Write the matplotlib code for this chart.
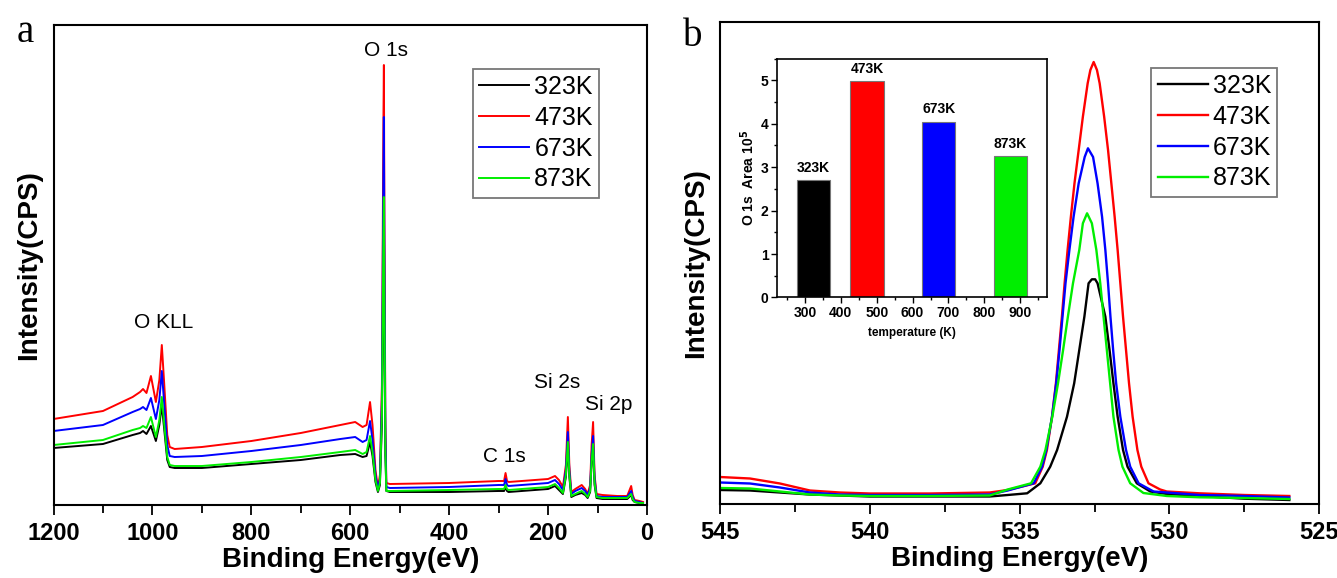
import matplotlib
matplotlib.use("Agg")
import matplotlib.pyplot as plt
from matplotlib.ticker import MultipleLocator

plt.rcParams['font.family'] = ['Liberation Sans', 'DejaVu Sans']

# ---- panel a: survey spectra (arbitrary intensity units) ----
survey_energy = [1200, 1100, 1040, 1025, 1019, 1012, 1003, 993, 986, 981, 976, 970, 965, 955,
                 900, 800, 700, 620, 590, 575, 567, 560, 555, 549, 544, 540, 536, 533, 532, 531,
                 529, 527, 520, 400, 300, 289, 286, 283, 280, 200, 186, 178, 170, 164, 160, 157,
                 153, 145, 132, 125, 120, 115, 112, 109, 106, 102, 90, 60, 40, 32, 29, 25, 15, 8]
survey_323 = [57, 61, 70, 72, 74, 71, 79, 64, 80, 100, 75, 45, 38, 37, 37, 41, 45, 50, 51, 48,
              49, 63, 49, 23, 13, 20, 80, 250, 290, 195, 50, 14, 13, 13, 14, 14, 18, 14, 13, 16,
              19, 15, 11, 28, 60, 28, 8, 10, 12, 10, 7, 13, 42, 58, 20, 7, 6, 6, 6, 10, 5, 3, 2, 2]
survey_473 = [86, 94, 108, 113, 116, 112, 129, 103, 125, 160, 120, 70, 58, 56, 58, 64, 72, 80, 83, 78,
              80, 103, 80, 35, 17, 30, 120, 380, 440, 300, 80, 22, 21, 22, 24, 24, 32, 24, 23, 26,
              29, 25, 18, 40, 88, 40, 13, 16, 20, 16, 11, 20, 60, 83, 30, 11, 10, 9, 9, 19, 10, 5, 4, 3]
survey_673 = [74, 80, 93, 96, 98, 95, 107, 86, 105, 134, 100, 60, 49, 48, 49, 54, 60, 66, 68, 63,
              65, 84, 65, 30, 16, 26, 105, 330, 388, 260, 70, 18, 17, 18, 20, 20, 26, 20, 19, 22,
              25, 21, 15, 35, 73, 34, 11, 14, 17, 14, 10, 17, 50, 69, 26, 9, 8, 8, 8, 14, 8, 4, 3, 2]
survey_873 = [60, 65, 75, 77, 79, 77, 88, 68, 85, 108, 80, 48, 40, 39, 39, 43, 48, 53, 55, 51,
              53, 69, 53, 25, 14, 22, 90, 270, 308, 210, 55, 14, 14, 15, 16, 16, 20, 16, 15, 18,
              21, 17, 12, 30, 63, 30, 9, 11, 14, 11, 8, 14, 44, 61, 22, 8, 7, 7, 7, 11, 6, 3, 2, 2]

# ---- panel b: O 1s high resolution ----
o1s_e_323 = [545, 544, 543, 542, 541, 540, 538, 536, 535.4, 534.75, 534.31, 533.98, 533.75, 533.42,
             533.18, 533.01, 532.84, 532.7, 532.59, 532.48, 532.4, 532.14, 532.0, 531.87, 531.73,
             531.55, 531.4, 531.09, 530.64, 530.09, 529, 527.5, 526]
o1s_i_323 = [14, 13.5, 11.5, 9.5, 8.5, 7.5, 7.5, 7.5, 9, 10.7, 20.7, 37.3, 54, 87.3,
             120.7, 154, 187.3, 220.7, 224.7, 224.7, 220.7, 187.3, 154, 120.7, 87.3,
             54, 37.3, 20.7, 12.5, 10, 8, 5.3, 4]
o1s_e_473 = [545, 544, 543, 542, 541, 540, 538, 536, 535.4, 534.48, 534.23, 534.09, 533.92, 533.79,
             533.69, 533.59, 533.5, 533.4, 533.29, 533.17, 533.03, 532.89, 532.73, 532.64, 532.53,
             532.42, 532.33, 532.18, 532.05, 531.94, 531.83, 531.73, 531.64, 531.55, 531.45, 531.35,
             531.23, 531.07, 530.94, 530.7, 530.31, 530.09, 529, 527.5, 526]
o1s_i_473 = [27, 25.5, 20.5, 13.5, 11.5, 10.5, 10.5, 11.5, 14, 20.7, 37.3, 54, 87.3, 120.7,
             154, 187.3, 220.7, 254, 287.3, 320.7, 354, 387.3, 420.7, 434, 442,
             434, 420.7, 387.3, 354, 320.7, 287.3, 254, 220.7, 187.3, 154, 120.7,
             87.3, 54, 37.3, 20.7, 14.5, 12.5, 10.7, 9, 8]
o1s_e_673 = [545, 544, 543, 542, 541, 540, 538, 536, 535.4, 534.53, 534.25, 534.11, 533.92, 533.78,
             533.67, 533.57, 533.47, 533.34, 533.2, 533.03, 532.83, 532.72, 532.55, 532.4, 532.25,
             532.14, 532.05, 531.97, 531.88, 531.78, 531.64, 531.45, 531.31, 531.03, 530.53, 530.09,
             529, 527.5, 526]
o1s_i_673 = [21.5, 20.5, 16.5, 11.5, 9.5, 9, 9, 9.5, 13.5, 20.7, 37.3, 54, 87.3, 120.7,
             154, 187.3, 220.7, 254, 287.3, 320.7, 347, 355.7, 347, 320.7, 287.3,
             254, 220.7, 187.3, 154, 120.7, 87.3, 54, 37.3, 20.7, 12.5, 11.5,
             9, 8, 6.5]
o1s_e_873 = [545, 544, 543, 542, 541, 540, 538, 536, 535.4, 534.62, 534.31, 534.14, 533.91, 533.72,
             533.55, 533.39, 533.22, 533.01, 532.89, 532.75, 532.59, 532.44, 532.31, 532.2, 532.09,
             531.98, 531.87, 531.7, 531.57, 531.31, 530.87, 530.09, 529, 527.5, 526]
o1s_i_873 = [16, 15.5, 12.5, 9.5, 8.5, 8, 8, 8.5, 14.5, 20.7, 37.3, 54, 87.3, 120.7,
             154, 187.3, 220.7, 254, 280.7, 290.7, 280.7, 254, 220.7, 187.3, 154,
             120.7, 87.3, 54, 37.3, 20.7, 11, 8, 6.7, 6, 5]

# ---- inset: O 1s area ----
temps = [323, 473, 673, 873]
areas = [2.71, 4.98, 4.05, 3.26]
temp_labels = ['323K', '473K', '673K', '873K']
colors = ['#000000', '#ff0000', '#0000ff', '#00ee00']

W, H = 1337, 578
fig = plt.figure(figsize=(W / 100, H / 100), dpi=100)


def px_axes(l, t, r, b):
    return fig.add_axes([l / W, 1 - b / H, (r - l) / W, (b - t) / H])


def style_main(ax):
    for s in ax.spines.values():
        s.set_linewidth(1.5)
    ax.tick_params(axis='x', which='both', direction='out', top=False, width=1.3,
                   labelsize=17, pad=5)
    ax.tick_params(axis='x', which='major', length=7)
    ax.tick_params(axis='x', which='minor', length=6)
    ax.tick_params(axis='y', which='both', left=False, labelleft=False)
    for lab in ax.get_xticklabels():
        lab.set_fontweight('bold')


def add_legend(ax, right_px, top_px):
    leg = ax.legend(loc='upper right', bbox_to_anchor=(right_px / W, 1 - top_px / H),
                    bbox_transform=fig.transFigure, fontsize=18, frameon=True, fancybox=False,
                    borderpad=0.25, labelspacing=0.27, handlelength=2.0, handletextpad=0.2,
                    borderaxespad=0)
    leg.get_frame().set_edgecolor('#555555')
    leg.get_frame().set_linewidth(1.3)


# panel a
ax = px_axes(53.5, 25, 647, 505)
survey = [survey_323, survey_473, survey_673, survey_873]
for vals, c, lab in zip(survey, colors, temp_labels):
    ax.plot(survey_energy, vals, color=c, lw=1.4, label=lab)
ax.set_xlim(1200, 0)
ax.set_ylim(0, 480)
ax.xaxis.set_major_locator(MultipleLocator(200))
ax.xaxis.set_minor_locator(MultipleLocator(100))
style_main(ax)
ax.set_xlabel('Binding Energy(eV)', fontsize=20, fontweight='bold', labelpad=2)
ax.set_ylabel('Intensity(CPS)', fontsize=20, fontweight='bold', labelpad=8)
for txt, e, i in [('O 1s', 528, 454), ('O KLL', 978, 182), ('C 1s', 288, 49),
                  ('Si 2s', 181, 123), ('Si 2p', 78, 100)]:
    ax.text(e, i, txt, fontsize=15, ha='center', va='center')
add_legend(ax, 599, 69)
fig.text(25 / W, 1 - 32 / H, 'a', fontsize=28, family='Liberation Serif', ha='center', va='center')

# panel b
bx = px_axes(720, 22, 1319.3, 504)
o1s = [(o1s_e_323, o1s_i_323), (o1s_e_473, o1s_i_473),
       (o1s_e_673, o1s_i_673), (o1s_e_873, o1s_i_873)]
for (e, i), c, lab in zip(o1s, colors, temp_labels):
    bx.plot(e, i, color=c, lw=1.7, label=lab, solid_joinstyle='round')
bx.set_xlim(545, 525)
bx.set_ylim(0, 482)
bx.xaxis.set_major_locator(MultipleLocator(5))
bx.xaxis.set_minor_locator(MultipleLocator(2.5))
style_main(bx)
bx.set_xlabel('Binding Energy(eV)', fontsize=20, fontweight='bold', labelpad=2)
bx.set_ylabel('Intensity(CPS)', fontsize=20, fontweight='bold', labelpad=8)
add_legend(bx, 1277.3, 67.8)
fig.text(693 / W, 1 - 36 / H, 'b', fontsize=28, family='Liberation Serif', ha='center', va='center')

# inset
ix = px_axes(776.9, 58.5, 1046.5, 297.5)
ix.bar(temps, areas, width=92, color=colors, edgecolor='#777777', linewidth=0.8)
for t, a, lab in zip(temps, areas, temp_labels):
    ix.text(t, a + 0.12, lab, ha='center', va='bottom', fontsize=10, fontweight='bold')
ix.set_xlim(222, 973)
ix.set_ylim(0, 5.5)
ix.xaxis.set_minor_locator(MultipleLocator(50))
ix.yaxis.set_major_locator(MultipleLocator(1))
ix.yaxis.set_minor_locator(MultipleLocator(0.5))
ix.set_xticks([300, 400, 500, 600, 700, 800, 900])
for s in ix.spines.values():
    s.set_linewidth(1.2)
ix.tick_params(which='both', direction='out', labelsize=10, width=1.0, pad=2)
ix.tick_params(which='major', length=4)
ix.tick_params(which='minor', length=2.5)
for lab in ix.get_xticklabels() + ix.get_yticklabels():
    lab.set_fontweight('bold')
ix.set_xlabel('temperature (K)', fontsize=8.5, fontweight='bold', labelpad=5)
ix.set_ylabel(r'O 1s  Area 10$^{\mathbf{5}}$', fontsize=10, fontweight='bold', labelpad=3)

fig.savefig('out.png', dpi=100)
